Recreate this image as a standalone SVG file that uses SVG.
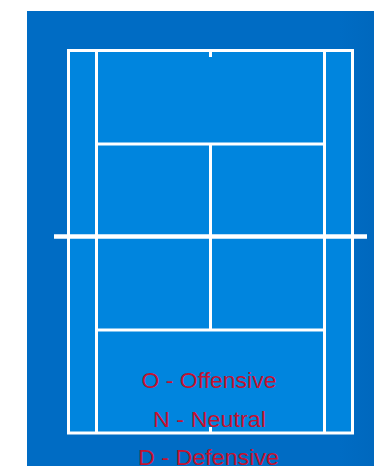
<svg xmlns="http://www.w3.org/2000/svg" width="374" height="466" viewBox="0 0 374 466">
<style>
.ln{stroke:#ffffff;stroke-width:3;fill:none;stroke-linecap:butt}
.lbl{font-family:"Liberation Sans",Arial,sans-serif;font-size:22px;fill:#c41230;text-anchor:middle}
</style>
<defs>
<linearGradient id="bg" x1="0" y1="0" x2="1" y2="0">
<stop offset="0" stop-color="#006cc4"/>
<stop offset="0.9" stop-color="#006cc4"/>
<stop offset="1" stop-color="#0068be"/>
</linearGradient>
</defs>
<rect x="0" y="0" width="374" height="466" fill="#ffffff"/>
<rect id="background" x="27" y="11" width="347" height="455" fill="url(#bg)"/>
<g id="court">
<rect x="68.5" y="50.5" width="284" height="382.5" fill="#0085de"/>
<rect class="ln" x="68.5" y="50.5" width="284" height="382.5"/>
</g>
<g id="lines">
<line class="ln" x1="96.5" y1="50.5" x2="96.5" y2="433"/>
<line class="ln" x1="324.5" y1="50.5" x2="324.5" y2="433"/>
<line class="ln" x1="96.5" y1="144" x2="324.5" y2="144"/>
<line class="ln" x1="96.5" y1="330" x2="324.5" y2="330"/>
<line class="ln" x1="210.5" y1="144" x2="210.5" y2="330"/>
<line class="ln" x1="210.5" y1="50.5" x2="210.5" y2="57"/>
<line class="ln" x1="210.5" y1="427" x2="210.5" y2="433"/>
<line id="net" class="ln" style="stroke-width:4.5" x1="54" y1="236.5" x2="367" y2="236.5"/>
</g>
<g id="legend">
<text class="lbl" x="209" y="388" textLength="135" lengthAdjust="spacingAndGlyphs">O - Offensive</text>
<text class="lbl" x="209.5" y="426.5" textLength="113" lengthAdjust="spacingAndGlyphs">N - Neutral</text>
<text class="lbl" x="208.5" y="465" textLength="141" lengthAdjust="spacingAndGlyphs">D - Defensive</text>
</g>
</svg>
